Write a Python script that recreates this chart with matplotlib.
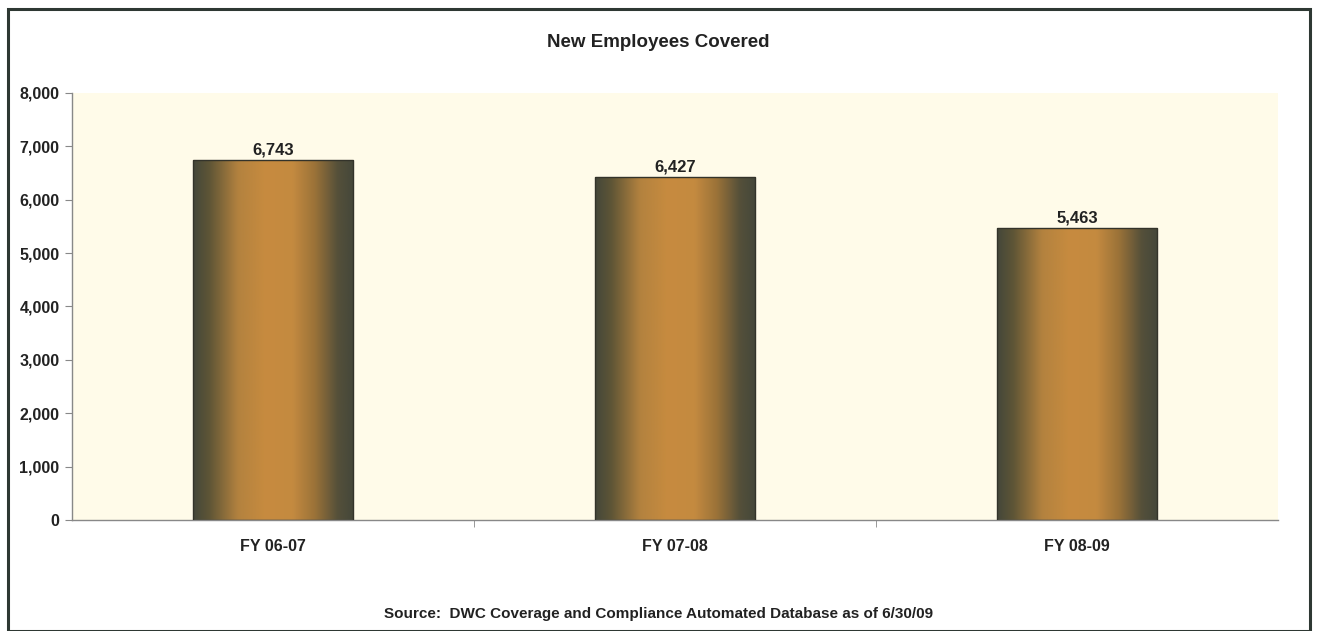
import numpy as np
import matplotlib.pyplot as plt
from matplotlib.colors import LinearSegmentedColormap
from matplotlib.patches import Rectangle

categories = ["FY 06-07", "FY 07-08", "FY 08-09"]
values = [6743, 6427, 5463]
yticks = [0, 1000, 2000, 3000, 4000, 5000, 6000, 7000, 8000]

plt.rcParams['font.family'] = ['Liberation Sans', 'DejaVu Sans']

fig = plt.figure(figsize=(13.17, 6.31), dpi=100)
fig.patch.set_facecolor('white')

# outer frame
fig.patches.append(Rectangle((0.006, 0.0), 0.989, 0.985, transform=fig.transFigure,
                             fill=False, edgecolor='#2e3833', linewidth=2.2))

ax = fig.add_axes([0.0547, 0.176, 0.9157, 0.6767])
ax.set_facecolor('#fffbe9')

x = np.arange(len(categories))
bars = ax.bar(x, values, width=0.4, color='none', edgecolor='#33332a', linewidth=1.0, zorder=3)

# horizontal shading like the original cylinder-ish fill
cmap = LinearSegmentedColormap.from_list('bar', [
    (0.0, '#44473a'), (0.1, '#5e5536'), (0.28, '#b3823f'), (0.45, '#c78b3f'),
    (0.62, '#c48a40'), (0.76, '#9a7238'), (0.9, '#55503a'), (1.0, '#44473a')])
grad = np.linspace(0, 1, 256).reshape(1, -1)
for b in bars:
    x0, y0 = b.get_x(), b.get_y()
    w, h = b.get_width(), b.get_height()
    im = ax.imshow(grad, extent=[x0, x0 + w, y0, y0 + h], aspect='auto',
                   cmap=cmap, zorder=2, interpolation='bicubic')
    im.set_clip_path(b)
    ax.text(x0 + w / 2, h + 50, f"{h:,.0f}", ha='center', va='bottom',
            fontsize=12, fontweight='bold', color='#222222', zorder=4)

ax.set_xlim(-0.5, len(categories) - 0.5)
ax.set_ylim(0, 8000)
ax.set_yticks(yticks)
ax.set_yticklabels([f"{v:,}" for v in yticks], fontsize=11.5, fontweight='bold', color='#222222')
ax.set_xticks(x)
ax.set_xticklabels(categories, fontsize=11.5, fontweight='bold', color='#222222')
ax.set_xticks([0.5, 1.5], minor=True)
ax.tick_params(axis='x', which='major', length=0, pad=14)
ax.tick_params(axis='x', which='minor', length=5, color='#888888')
ax.tick_params(axis='y', length=5, color='#888888', pad=4)

for s in ['top', 'right']:
    ax.spines[s].set_visible(False)
for s in ['left', 'bottom']:
    ax.spines[s].set_color('#888888')
    ax.spines[s].set_linewidth(1.0)

fig.text(0.5, 0.932, "New Employees Covered", ha='center', va='center',
         fontsize=13.5, fontweight='bold', color='#222222')
fig.text(0.5, 0.027, "Source:  DWC Coverage and Compliance Automated Database as of 6/30/09",
         ha='center', va='center', fontsize=11, fontweight='bold', color='#222222')

fig.savefig('out.png', dpi=100)
